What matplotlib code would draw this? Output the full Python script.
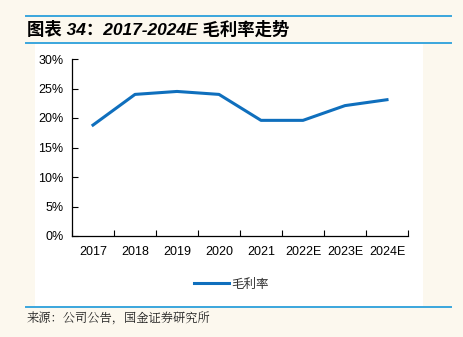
import matplotlib
matplotlib.use("Agg")
import matplotlib.pyplot as plt
from matplotlib.ticker import FuncFormatter, FixedLocator
from matplotlib.lines import Line2D

plt.rcParams['font.family'] = ['Liberation Sans', 'Noto Sans CJK SC', 'DejaVu Sans']

years = ["2017", "2018", "2019", "2020", "2021", "2022E", "2023E", "2024E"]
gross_margin = [18.8, 24.0, 24.5, 24.0, 19.6, 19.6, 22.1, 23.1]
title = "图表 34：2017-2024E 毛利率走势"
legend_label = "毛利率"
source = "来源：公司公告，国金证券研究所"

W, H = 463, 337
bg = "#fcf8ee"
blue_rule = "#3aa6dd"
line_color = "#0f6fbd"

fig = plt.figure(figsize=(W / 100, H / 100), dpi=100, facecolor=bg)

def fx(px): return px / W
def fy(py): return 1 - py / H

# white panel
fig.patches.append(plt.Rectangle((fx(35), fy(307)), fx(423) - fx(35), fy(43) - fy(307),
                                 transform=fig.transFigure, facecolor="white", edgecolor="none", zorder=-5))
# rules
for y, x0, x1 in [(16, 26, 451), (43, 26, 451), (307, 26, 451)]:
    fig.add_artist(Line2D([fx(x0), fx(x1)], [fy(y), fy(y)], transform=fig.transFigure,
                          color=blue_rule, lw=1.4))

fig.text(fx(27), fy(29), title, fontsize=12.5, fontweight="bold", style="italic",
         va="center", ha="left", family=['Liberation Sans', 'Noto Sans CJK SC'])
fig.text(fx(27), fy(319), source, fontsize=8.8, va="center", ha="left",
         family=['Noto Serif CJK SC', 'Noto Sans CJK SC'], color="#222222")

ax = fig.add_axes([fx(72), fy(236), fx(408) - fx(72), fy(59) - fy(236)])
ax.set_zorder(2)
ax.set_facecolor("white")
x = list(range(len(years)))
ax.plot(x, gross_margin, color=line_color, lw=2.2, label=legend_label)
ax.set_xlim(-0.5, len(years) - 0.5)
ax.set_ylim(0, 30)
ax.set_yticks(range(0, 31, 5))
ax.yaxis.set_major_formatter(FuncFormatter(lambda v, p: f"{int(v)}%"))
ax.set_xticks(x)
ax.set_xticklabels(years)
ax.xaxis.set_minor_locator(FixedLocator([i + 0.5 for i in range(-1, len(years))]))
ax.tick_params(axis="x", which="major", length=0, pad=7, labelsize=9)
ax.tick_params(axis="x", which="minor", direction="in", length=4, width=0.8)
ax.tick_params(axis="y", direction="in", length=4, width=0.8, labelsize=9, pad=6)
for s in ["top", "right"]:
    ax.spines[s].set_visible(False)
for s in ["left", "bottom"]:
    ax.spines[s].set_linewidth(0.9)

leg = fig.legend(handles=[Line2D([], [], color=line_color, lw=2.2, label=legend_label)],
                 loc="center", bbox_to_anchor=(fx(231), fy(284)), frameon=False,
                 handlelength=2.8, handletextpad=0.2,
                 prop={'family': ['Noto Sans CJK SC'], 'size': 9})
for t in leg.get_texts():
    t.set_color("#333333")

fig.savefig("out.png", dpi=100, facecolor=bg)
